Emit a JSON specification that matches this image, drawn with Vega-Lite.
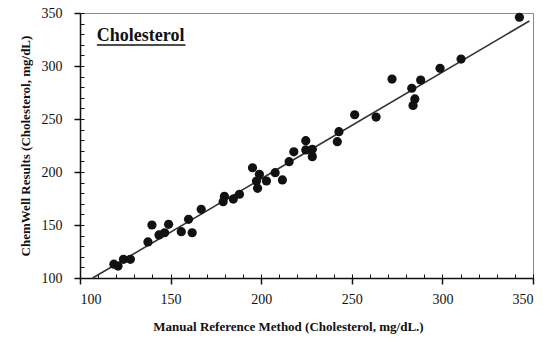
{
  "$schema": "https://vega.github.io/schema/vega-lite/v6.json",
  "width": 453,
  "height": 265,
  "autosize": {"type": "none"},
  "padding": {"left": 80, "top": 13, "right": 20, "bottom": 64},
  "config": {
    "view": {"stroke": "#8a8a8a", "strokeWidth": 1},
    "font": "Liberation Serif",
    "axis": {"labelFont": "Liberation Serif", "titleFont": "Liberation Serif", "labelColor": "#111", "titleColor": "#111", "domainColor": "#111", "tickColor": "#111", "grid": false}
  },
  "resolve": {"axis": {"x": "independent", "y": "independent"}},
  "datasets": {
    "pts": [
      {"ref": 118.7, "cw": 113}, {"ref": 121, "cw": 111.3}, {"ref": 124, "cw": 117.6}, {"ref": 127.8, "cw": 117.6},
      {"ref": 137.5, "cw": 134}, {"ref": 139.7, "cw": 150}, {"ref": 143.6, "cw": 140.6}, {"ref": 146.7, "cw": 142.7},
      {"ref": 148.9, "cw": 150.6}, {"ref": 155.9, "cw": 143.7}, {"ref": 159.9, "cw": 155.4}, {"ref": 161.9, "cw": 142.7},
      {"ref": 166.9, "cw": 164.8}, {"ref": 179, "cw": 172}, {"ref": 179.7, "cw": 177}, {"ref": 184.6, "cw": 174.5},
      {"ref": 188, "cw": 179}, {"ref": 195.2, "cw": 204}, {"ref": 199, "cw": 197.8}, {"ref": 197.4, "cw": 191.5},
      {"ref": 198, "cw": 184.6}, {"ref": 202.9, "cw": 191.5}, {"ref": 207.7, "cw": 199.4}, {"ref": 211.7, "cw": 192.5},
      {"ref": 215.4, "cw": 209.7}, {"ref": 218, "cw": 219}, {"ref": 224.6, "cw": 229.5}, {"ref": 224.6, "cw": 220.8},
      {"ref": 228.2, "cw": 221.4}, {"ref": 228.2, "cw": 214.5}, {"ref": 242, "cw": 228.6}, {"ref": 242.9, "cw": 238},
      {"ref": 251.6, "cw": 254}, {"ref": 263.4, "cw": 251.8}, {"ref": 272.2, "cw": 287.7}, {"ref": 283.1, "cw": 279},
      {"ref": 288, "cw": 286.8}, {"ref": 284.8, "cw": 268.9}, {"ref": 283.8, "cw": 262.8}, {"ref": 298.7, "cw": 297.8},
      {"ref": 310.3, "cw": 306.5}, {"ref": 342.5, "cw": 346}
    ],
    "fit": [{"ref": 107, "cw": 100}, {"ref": 348, "cw": 342.5}],
    "label": [{"ref": 109.3, "cw": 323.6, "t": "Cholesterol"}],
    "underline": [{"ref": 109.3, "ref2": 158.2, "cw": 319.8}]
  },
  "layer": [
    {
      "data": {"name": "fit"},
      "mark": {"type": "line", "color": "#333", "strokeWidth": 1.6},
      "encoding": {
        "x": {"field": "ref", "type": "quantitative", "scale": {"domain": [100, 350], "nice": false},
          "axis": {"orient": "bottom", "values": [100,110,120,130,140,150,160,170,180,190,200,210,220,230,240,250,260,270,280,290,300,310,320,330,340,350], "labels": false, "tickSize": -4, "title": null, "domainWidth": 1.5}},
        "y": {"field": "cw", "type": "quantitative", "scale": {"domain": [100, 350], "nice": false},
          "axis": {"orient": "left", "values": [100,110,120,130,140,150,160,170,180,190,200,210,220,230,240,250,260,270,280,290,300,310,320,330,340,350], "labels": false, "tickSize": -4, "title": null, "domainWidth": 1.5}}
      }
    },
    {
      "data": {"name": "pts"},
      "mark": {"type": "point", "filled": true, "color": "#111", "opacity": 1, "size": 85},
      "encoding": {
        "x": {"field": "ref", "type": "quantitative",
          "axis": {"orient": "bottom", "values": [100, 150, 200, 250, 300, 350], "tickSize": 6, "tickWidth": 1.5, "domain": false, "labelFontSize": 14, "labelPadding": 8,
            "title": "Manual Reference Method (Cholesterol, mg/dL.)", "titleFontSize": 13, "titleFontWeight": "bold", "titlePadding": 14, "titleX": 208, "titleAlign": "center"}},
        "y": {"field": "cw", "type": "quantitative",
          "axis": {"orient": "left", "values": [100, 150, 200, 250, 300, 350], "tickSize": 6, "tickWidth": 1.5, "domain": false, "labelFontSize": 14, "labelPadding": 12,
            "title": "ChemWell Results (Cholesterol, mg/dL)", "titleFontSize": 13, "titleFontWeight": "bold", "titlePadding": 9}}
      }
    },
    {
      "data": {"name": "label"},
      "mark": {"type": "text", "align": "left", "baseline": "alphabetic", "fontSize": 18, "fontWeight": "bold", "font": "Liberation Serif", "color": "#111"},
      "encoding": {
        "x": {"field": "ref", "type": "quantitative", "axis": null},
        "y": {"field": "cw", "type": "quantitative", "axis": null},
        "text": {"field": "t"}
      }
    },
    {
      "data": {"name": "underline"},
      "mark": {"type": "rule", "color": "#111", "strokeWidth": 1.5},
      "encoding": {
        "x": {"field": "ref", "type": "quantitative", "axis": null},
        "x2": {"field": "ref2"},
        "y": {"field": "cw", "type": "quantitative", "axis": null}
      }
    }
  ]
}
